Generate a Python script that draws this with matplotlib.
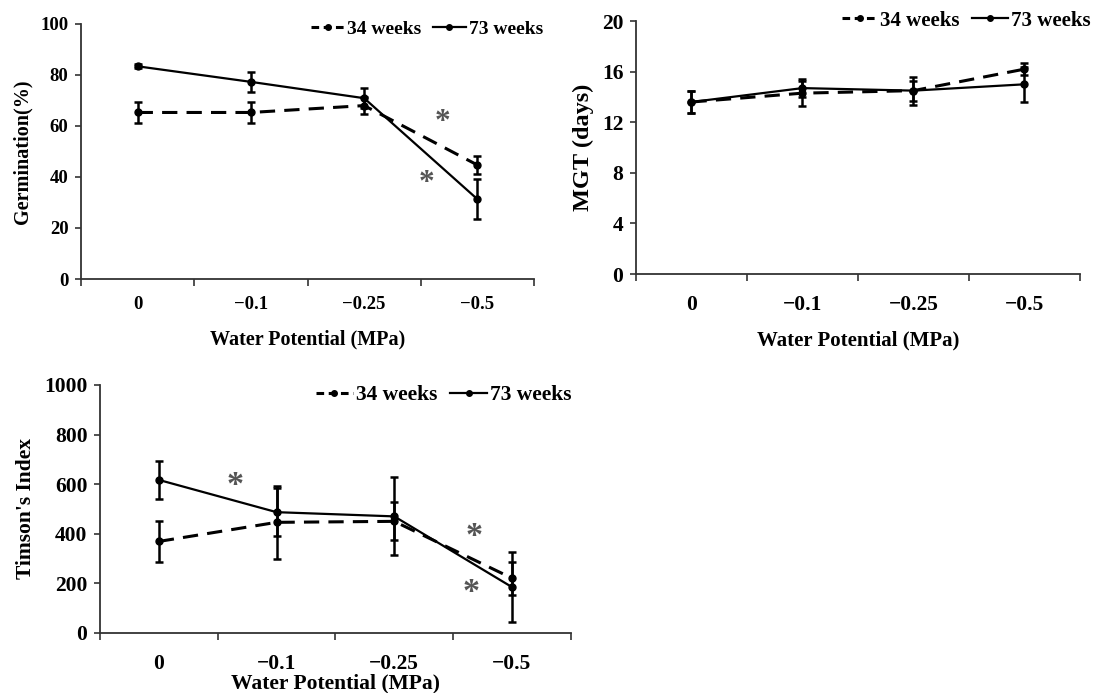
import matplotlib

matplotlib.use("Agg")
import matplotlib.pyplot as plt
from matplotlib.lines import Line2D
from matplotlib.ticker import FixedLocator

plt.rcParams["font.family"] = ["Liberation Serif", "DejaVu Serif"]
plt.rcParams["font.weight"] = "bold"

categories = ["0", "\u22120.1", "\u22120.25", "\u22120.5"]
series_names = ["34 weeks", "73 weeks"]

germ_34 = [65.3, 65.3, 68.0, 44.7]
germ_34_err = [4.2, 4.2, 3.3, 3.4]
germ_73 = [83.4, 77.3, 70.9, 31.3]
germ_73_err = [0.8, 4.0, 3.9, 7.9]
germ_stars = [(2.69, 61.5), (2.55, 37.5)]

mgt_34 = [13.6, 14.3, 14.5, 16.2]
mgt_34_err = [0.9, 1.0, 0.8, 0.5]
mgt_73 = [13.6, 14.7, 14.5, 15.0]
mgt_73_err = [0.9, 0.7, 1.1, 1.4]

tim_34 = [369, 446, 450, 221]
tim_34_err = [83, 147, 76, 67]
tim_73 = [617, 487, 470, 185]
tim_73_err = [78, 97, 157, 140]
tim_stars = [(0.65, 595), (2.68, 390), (2.65, 162)]

panels = [
    dict(rect=[0.074, 0.5974, 0.4137, 0.368], s34=germ_34, e34=germ_34_err, s73=germ_73, e73=germ_73_err,
         ylim=100, yticks=[0, 20, 40, 60, 80, 100], ylabel="Germination(%)", stars=germ_stars,
         tick_fs=13.5, xlab_fs=14.5, ylab_fs=14.5, leg_fs=14, tick_pad=12, xlab_pad=12,
         leg=(0.496, 0.958)),
    dict(rect=[0.5808, 0.6046, 0.4055, 0.365], s34=mgt_34, e34=mgt_34_err, s73=mgt_73, e73=mgt_73_err,
         ylim=20, yticks=[0, 4, 8, 12, 16, 20], ylabel="MGT (days)", stars=[],
         tick_fs=15.5, xlab_fs=15, ylab_fs=17.5, leg_fs=15, tick_pad=15, xlab_pad=11,
         leg=(0.996, 0.970)),
    dict(rect=[0.0913, 0.0866, 0.430, 0.358], s34=tim_34, e34=tim_34_err, s73=tim_73, e73=tim_73_err,
         ylim=1000, yticks=[0, 200, 400, 600, 800, 1000], ylabel="Timson's Index", stars=tim_stars,
         tick_fs=15.5, xlab_fs=15.5, ylab_fs=15.5, leg_fs=15.5, tick_pad=15, xlab_pad=0,
         leg=(0.522, 0.430)),
]

fig = plt.figure(figsize=(10.95, 6.93), dpi=100)
x = list(range(len(categories)))

for p in panels:
    ax = fig.add_axes(p["rect"])
    ax.errorbar(x, p["s34"], yerr=p["e34"], color="black", ls=(0, (5, 3)), lw=2.2,
                marker="o", ms=5, capsize=3, elinewidth=1.8, capthick=1.8)
    ax.errorbar(x, p["s73"], yerr=p["e73"], color="black", ls="-", lw=1.6,
                marker="o", ms=5, capsize=3, elinewidth=1.8, capthick=1.8)
    for sx, sy in p["stars"]:
        ax.text(sx, sy, "*", color="#555555", fontsize=p["tick_fs"] + 9, ha="center", va="center")

    ax.set_xlim(-0.5, len(categories) - 0.5)
    ax.set_ylim(0, p["ylim"])
    ax.set_yticks(p["yticks"])
    # tick marks sit between categories, labels sit under them
    ax.xaxis.set_major_locator(FixedLocator([i - 0.5 for i in range(len(categories) + 1)]))
    ax.xaxis.set_minor_locator(FixedLocator(x))
    ax.set_xticklabels([], minor=False)
    ax.set_xticklabels(categories, minor=True)
    ax.tick_params(axis="x", which="major", direction="out", length=5, width=1.2, color="#333333")
    ax.tick_params(axis="x", which="minor", length=0, pad=p["tick_pad"], labelsize=p["tick_fs"])
    ax.tick_params(axis="y", direction="out", length=4, width=1.2, color="#333333",
                   labelsize=p["tick_fs"], pad=5)
    for lbl in ax.get_xticklabels(minor=True) + ax.get_yticklabels():
        lbl.set_fontweight("bold")
    for side in ("top", "right"):
        ax.spines[side].set_visible(False)
    for side in ("left", "bottom"):
        ax.spines[side].set_color("#333333")
        ax.spines[side].set_linewidth(1.3)

    ax.set_ylabel(p["ylabel"], fontsize=p["ylab_fs"], fontweight="bold", labelpad=6)
    ax.set_xlabel("Water Potential (MPa)", fontsize=p["xlab_fs"], fontweight="bold",
                  labelpad=p["xlab_pad"])

    handles = [
        Line2D([], [], color="black", ls=(0, (2.5, 1.5)), lw=2.2, marker="o", ms=4),
        Line2D([], [], color="black", ls="-", lw=1.6, marker="o", ms=4),
    ]
    fig.legend(handles, series_names, loc="center right", bbox_to_anchor=p["leg"],
               frameon=False, ncol=2, handlelength=1.7, handletextpad=0.15,
               columnspacing=0.6, borderaxespad=0, borderpad=0,
               prop=dict(weight="bold", size=p["leg_fs"]))

fig.savefig("out.png", dpi=100)
